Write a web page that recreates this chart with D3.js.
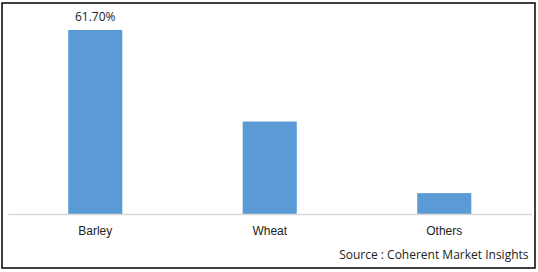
<!DOCTYPE html>
<html>
<head>
<meta charset="utf-8">
<script src="https://cdn.jsdelivr.net/npm/d3@7"></script>
<style>
  body { margin: 0; background: #fff; }
  svg { display: block; font-family: "Open Sans", "DejaVu Sans", sans-serif; }
  .axis text { font-size: 12px; fill: #222; }
  .axis path { stroke: #d9d9d9; stroke-width: 1.5; }
</style>
</head>
<body>
<div id="chart-area"></div>
<script>

// DATA

var categories = ["Barley", "Wheat", "Others"];
var shares = [61.7, 31.0, 7.0];
var labelled = ["Barley"];   // only the first bar shows its value

var data = categories.map(function(c, i) { return {Category: c, Share: shares[i]}; });

// CHART AREA

var width = 538,
    height = 272;

var svg = d3.select("#chart-area").append("svg")
    .attr("width", width)
    .attr("height", height);

// outer frame
svg.append("rect")
    .attr("x", 2)
    .attr("y", 3)
    .attr("width", 533)
    .attr("height", 265)
    .attr("fill", "none")
    .attr("stroke", "#000")
    .attr("stroke-width", 1.5);

// SCALES

var x = d3.scaleBand()
    .domain(categories)
    .range([8, 531.5])
    .paddingInner(0.69)
    .paddingOuter(0.345);

var y = d3.scaleLinear()
    .domain([0, d3.max(shares)])
    .range([214, 30]);

// ---- DRAW BARS ----
svg.selectAll(".bar")
    .data(data)
    .enter()
    .append("rect")
    .attr("class", "bar")
    .attr("x", function(d) { return x(d.Category); })
    .attr("y", function(d) { return y(d.Share); })
    .attr("width", x.bandwidth())
    .attr("height", function(d) { return y(0) - y(d.Share); })
    .attr("fill", "#5b9bd5");

// value label
svg.selectAll(".value-label")
    .data(data.filter(function(d) { return labelled.indexOf(d.Category) >= 0; }))
    .enter()
    .append("text")
    .attr("class", "value-label")
    .attr("x", function(d) { return x(d.Category) + x.bandwidth() / 2; })
    .attr("y", function(d) { return y(d.Share) - 9; })
    .attr("text-anchor", "middle")
    .style("font-size", "12px")
    .style("fill", "#222")
    .text(function(d) { return d.Share.toFixed(2) + "%"; });

// ---- DRAW AXIS ----
var xAxis = d3.axisBottom(x)
    .tickSize(0)
    .tickPadding(12);

svg.append("g")
    .attr("class", "x-axis axis")
    .attr("transform", "translate(0," + y(0) + ")")
    .call(xAxis);

// source note
svg.append("text")
    .attr("x", 528.5)
    .attr("y", 259)
    .attr("text-anchor", "end")
    .style("font-size", "12px")
    .style("fill", "#222")
    .text("Source : Coherent Market Insights");

</script>
</body>
</html>
